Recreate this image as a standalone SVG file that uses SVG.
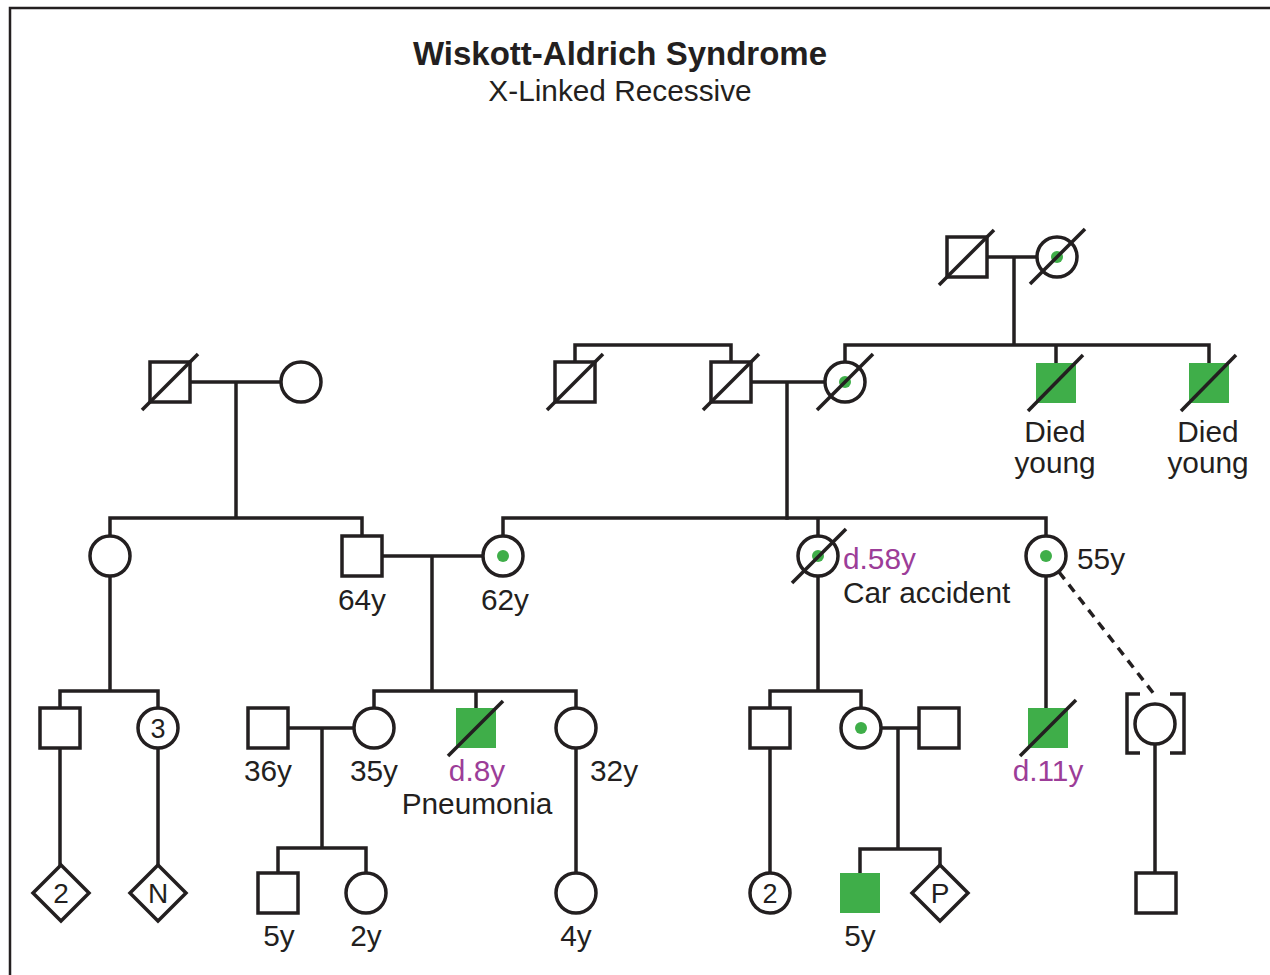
<svg xmlns="http://www.w3.org/2000/svg" width="1270" height="975" viewBox="0 0 1270 975">
<style>
.sym{fill:#fff;stroke:#231f20;stroke-width:3.5}
.aff{fill:#3fae49;stroke:none}
.dot{fill:#3fae49;stroke:none}
.sl{stroke:#231f20;stroke-width:3.5;fill:none}
.ln{stroke:#231f20;stroke-width:3.5;fill:none;stroke-linecap:square}
.dash{stroke:#231f20;stroke-width:3.5;fill:none;stroke-dasharray:9,7}
text{font-family:"Liberation Sans",Arial,Helvetica,sans-serif;fill:#231f20;font-size:29.8px}
.c{text-anchor:middle}
.p{fill:#9c3d98}
.title{font-size:33px;font-weight:bold}
.n{font-size:27px}
.dn{font-size:28px}
</style>
<rect width="1270" height="975" fill="#fff"/>
<path d="M10,975 V8 H1270" fill="none" stroke="#231f20" stroke-width="2.5"/>
<text x="620" y="65" class="title c">Wiskott-Aldrich Syndrome</text>
<text x="620" y="101" class="c">X-Linked Recessive</text>

<g id="connectors">
<path class="ln" d="M987,257 H1037 M1014,257 V345 M845,345 H1209 M845,345 V362 M1056,345 V363 M1209,345 V363"/>
<path class="ln" d="M575,345 H731 M575,345 V362 M731,345 V362 M751,382 H825 M787,382 V518"/>
<path class="ln" d="M190,382 H281 M236,382 V518 M110,518 H362 M110,518 V536 M362,518 V536"/>
<path class="ln" d="M503,518 H1046 M503,518 V536 M818,518 V536 M1046,518 V536"/>
<path class="ln" d="M382,556 H483 M432,556 V691 M374,691 H576 M374,691 V708 M476,691 V708 M576,691 V708"/>
<path class="ln" d="M110,576 V691 M60,691 H158 M60,691 V708 M158,691 V708 M60,748 V865 M158,748 V865"/>
<path class="ln" d="M288,728 H354 M322,728 V848 M278,848 H366 M278,848 V873 M366,848 V873 M576,748 V873"/>
<path class="ln" d="M818,576 V691 M770,691 H861 M770,691 V708 M861,691 V708 M770,748 V873"/>
<path class="ln" d="M881,728 H918 M898,728 V849 M860,849 H940 M860,849 V873 M940,849 V865"/>
<path class="ln" d="M1046,576 V708 M1155,745 V873"/>
<path class="dash" d="M1059,572 L1154,694"/>
</g>

<g id="g1-male"><rect class="sym" x="947" y="237" width="40" height="40"/><line class="sl" x1="939" y1="285" x2="994" y2="230"/></g>
<g id="g1-female"><circle class="sym" cx="1057" cy="257" r="20"/><circle class="dot" cx="1057" cy="257" r="6"/><line class="sl" x1="1030" y1="284" x2="1085" y2="229"/></g>

<g id="g2-left-male"><rect class="sym" x="150" y="362" width="40" height="40"/><line class="sl" x1="142" y1="410" x2="198" y2="354"/></g>
<g id="g2-left-female"><circle class="sym" cx="301" cy="382" r="20"/></g>
<g id="g2-brother"><rect class="sym" x="555" y="362" width="40" height="40"/><line class="sl" x1="547" y1="410" x2="603" y2="354"/></g>
<g id="g2-husband"><rect class="sym" x="711" y="362" width="40" height="40"/><line class="sl" x1="703" y1="410" x2="759" y2="354"/></g>
<g id="g2-carrier"><circle class="sym" cx="845" cy="382" r="20"/><circle class="dot" cx="845" cy="382" r="6"/><line class="sl" x1="817" y1="410" x2="873" y2="354"/></g>
<g id="g2-affected1"><rect class="aff" x="1036" y="363" width="40" height="40"/><line class="sl" x1="1028" y1="411" x2="1083" y2="355"/><text x="1055" y="442" class="c">Died</text><text x="1055" y="473" class="c">young</text></g>
<g id="g2-affected2"><rect class="aff" x="1189" y="363" width="40" height="40"/><line class="sl" x1="1181" y1="411" x2="1236" y2="355"/><text x="1208" y="442" class="c">Died</text><text x="1208" y="473" class="c">young</text></g>

<g id="g3-female-left"><circle class="sym" cx="110" cy="556" r="20"/></g>
<g id="g3-male-64"><rect class="sym" x="342" y="536" width="40" height="40"/><text x="362" y="610" class="c">64y</text></g>
<g id="g3-carrier-62"><circle class="sym" cx="503" cy="556" r="20"/><circle class="dot" cx="503" cy="556" r="6"/><text x="505" y="610" class="c">62y</text></g>
<g id="g3-carrier-d58"><circle class="sym" cx="818" cy="556" r="20"/><circle class="dot" cx="818" cy="556" r="6"/><line class="sl" x1="792" y1="583" x2="846" y2="529"/><text x="843" y="569" class="p">d.58y</text><text x="843" y="603">Car accident</text></g>
<g id="g3-carrier-55"><circle class="sym" cx="1046" cy="556" r="20"/><circle class="dot" cx="1046" cy="556" r="6"/><text x="1077" y="569">55y</text></g>

<g id="g4-male-left"><rect class="sym" x="40" y="708" width="40" height="40"/></g>
<g id="g4-females-3"><circle class="sym" cx="158" cy="728" r="20"/><text x="158" y="738" class="c n">3</text></g>
<g id="g4-male-36"><rect class="sym" x="248" y="708" width="40" height="40"/><text x="268" y="781" class="c">36y</text></g>
<g id="g4-female-35"><circle class="sym" cx="374" cy="728" r="20"/><text x="374" y="781" class="c">35y</text></g>
<g id="g4-affected-d8"><rect class="aff" x="456" y="708" width="40" height="40"/><line class="sl" x1="448" y1="756" x2="503" y2="701"/><text x="477" y="781" class="c p">d.8y</text><text x="477" y="814" class="c">Pneumonia</text></g>
<g id="g4-female-32"><circle class="sym" cx="576" cy="728" r="20"/><text x="590" y="781">32y</text></g>
<g id="g4-male-mid"><rect class="sym" x="750" y="708" width="40" height="40"/></g>
<g id="g4-carrier"><circle class="sym" cx="861" cy="728" r="20"/><circle class="dot" cx="861" cy="728" r="6"/></g>
<g id="g4-husband"><rect class="sym" x="919" y="708" width="40" height="40"/></g>
<g id="g4-affected-d11"><rect class="aff" x="1028" y="708" width="40" height="40"/><line class="sl" x1="1020" y1="756" x2="1076" y2="700"/><text x="1048" y="781" class="c p">d.11y</text></g>
<g id="g4-adopted"><circle class="sym" cx="1155" cy="724" r="20"/><path class="sl" d="M1140,694 H1127 V753 H1140 M1170,694 H1184 V753 H1170"/></g>

<g id="g5-diamond-2"><path class="sym" d="M61,865 L89,893 L61,921 L33,893 Z"/><text x="61" y="903" class="c dn">2</text></g>
<g id="g5-diamond-N"><path class="sym" d="M158,865 L186,893 L158,921 L130,893 Z"/><text x="158" y="903" class="c dn">N</text></g>
<g id="g5-male-5"><rect class="sym" x="258" y="873" width="40" height="40"/><text x="279" y="946" class="c">5y</text></g>
<g id="g5-female-2"><circle class="sym" cx="366" cy="893" r="20"/><text x="366" y="946" class="c">2y</text></g>
<g id="g5-female-4"><circle class="sym" cx="576" cy="893" r="20"/><text x="576" y="946" class="c">4y</text></g>
<g id="g5-females-2"><circle class="sym" cx="770" cy="893" r="20"/><text x="770" y="903" class="c n">2</text></g>
<g id="g5-affected-5"><rect class="aff" x="840" y="873" width="40" height="40"/><text x="860" y="946" class="c">5y</text></g>
<g id="g5-pregnancy"><path class="sym" d="M940,865 L968,893 L940,921 L912,893 Z"/><text x="940" y="903" class="c dn">P</text></g>
<g id="g5-male-adopted"><rect class="sym" x="1136" y="873" width="40" height="40"/></g>
</svg>
